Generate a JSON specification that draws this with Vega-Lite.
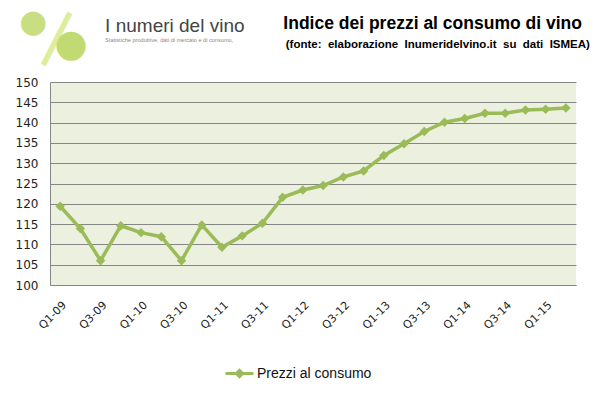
{
  "$schema": "https://vega.github.io/schema/vega-lite/v6.json",
  "width": 526,
  "height": 203,
  "autosize": {"type": "none"},
  "padding": {"left": 50, "top": 82, "right": 19, "bottom": 114},
  "background": "white",
  "config": {
    "view": {"fill": "#EBF1DE", "stroke": null},
    "font": "DejaVu Sans"
  },
  "data": {
    "values": [
      {"q": "Q1-09", "v": 119.4},
      {"q": "Q2-09", "v": 113.9},
      {"q": "Q3-09", "v": 106.0},
      {"q": "Q4-09", "v": 114.6},
      {"q": "Q1-10", "v": 112.9},
      {"q": "Q2-10", "v": 111.9},
      {"q": "Q3-10", "v": 106.0},
      {"q": "Q4-10", "v": 114.8},
      {"q": "Q1-11", "v": 109.3},
      {"q": "Q2-11", "v": 112.1},
      {"q": "Q3-11", "v": 115.2},
      {"q": "Q4-11", "v": 121.6},
      {"q": "Q1-12", "v": 123.4},
      {"q": "Q2-12", "v": 124.5},
      {"q": "Q3-12", "v": 126.6},
      {"q": "Q4-12", "v": 128.1},
      {"q": "Q1-13", "v": 131.9},
      {"q": "Q2-13", "v": 134.8},
      {"q": "Q3-13", "v": 137.8},
      {"q": "Q4-13", "v": 140.1},
      {"q": "Q1-14", "v": 141.0},
      {"q": "Q2-14", "v": 142.3},
      {"q": "Q3-14", "v": 142.3},
      {"q": "Q4-14", "v": 143.1},
      {"q": "Q1-15", "v": 143.3},
      {"q": "Q2-15", "v": 143.6}
    ]
  },
  "layer": [
    {
      "mark": {"type": "line", "strokeWidth": 3.5, "point": {"shape": "diamond", "size": 90, "filled": true}},
      "encoding": {
        "x": {
          "field": "q", "type": "ordinal", "sort": null,
          "axis": {
            "title": null,
            "values": ["Q1-09","Q3-09","Q1-10","Q3-10","Q1-11","Q3-11","Q1-12","Q3-12","Q1-13","Q3-13","Q1-14","Q3-14","Q1-15"],
            "labelAngle": -45,
            "labelFont": "DejaVu Sans",
            "labelFontSize": 11,
            "labelColor": "#222",
            "labelPadding": 14,
            "ticks": false,
            "domainColor": "#868686",
            "grid": false
          }
        },
        "y": {
          "field": "v", "type": "quantitative",
          "scale": {"domain": [100, 150], "nice": false, "zero": false},
          "axis": {
            "title": null,
            "values": [100,105,110,115,120,125,130,135,140,145,150],
            "tickCount": 11,
            "labelOverlap": false,
            "labelFont": "DejaVu Sans",
            "labelFontSize": 12,
            "labelColor": "#222",
            "labelPadding": 12,
            "ticks": false,
            "domainColor": "#868686",
            "gridColor": "#868686",
            "gridOpacity": 1
          }
        },
        "color": {
          "datum": "Prezzi al consumo",
          "scale": {"range": ["#9BBB59"]},
          "legend": {
            "title": null,
            "orient": "none",
            "legendX": 174,
            "legendY": 276,
            "symbolType": "M-1,0H1M0,-0.22L0.22,0L0,0.22L-0.22,0Z",
            "symbolSize": 784,
            "symbolStrokeWidth": 3,
            "symbolFillColor": "#9BBB59",
            "symbolStrokeColor": "#9BBB59",
            "labelFont": "Liberation Sans",
            "labelFontSize": 14,
            "labelColor": "#111",
            "labelOffset": 2
          }
        }
      }
    },
    {
      "data": {"values": [{"t": "●"}]},
      "mark": {"type": "text", "fontSize": 32, "color": "#C9DE80", "dx": -27, "align": "center", "baseline": "middle"},
      "encoding": {"text": {"field": "t"}, "x": {"datum": "Q1-09"}, "y": {"datum": 164.7}}
    },
    {
      "data": {"values": [{"t": "━━━"}]},
      "mark": {"type": "text", "fontSize": 32, "color": "#DCEE9E", "dx": -6, "align": "center", "baseline": "middle", "angle": -63},
      "encoding": {"text": {"field": "t"}, "x": {"datum": "Q1-09"}, "y": {"datum": 161.8}}
    },
    {
      "data": {"values": [{"t": "●"}]},
      "mark": {"type": "text", "fontSize": 38, "color": "#C2DA72", "dx": 11, "align": "center", "baseline": "middle"},
      "encoding": {"text": {"field": "t"}, "x": {"datum": "Q1-09"}, "y": {"datum": 159}}
    },
    {
      "data": {"values": [{"t": "I numeri del vino"}]},
      "mark": {"type": "text", "fontSize": 19, "font": "Liberation Sans", "color": "#444444", "dx": 45, "align": "left", "baseline": "alphabetic"},
      "encoding": {"text": {"field": "t"}, "x": {"datum": "Q1-09"}, "y": {"datum": 162.3}}
    },
    {
      "data": {"values": [{"t": "Statistiche produttive, dati di mercato e di consumo,"}]},
      "mark": {"type": "text", "fontSize": 5.6, "font": "Liberation Sans", "color": "#888888", "dx": 45, "align": "left", "baseline": "alphabetic"},
      "encoding": {"text": {"field": "t"}, "x": {"datum": "Q1-09"}, "y": {"datum": 159.8}}
    },
    {
      "data": {"values": [{"t": "Indice dei prezzi al consumo di vino"}]},
      "mark": {"type": "text", "fontSize": 17.5, "font": "Liberation Sans", "fontWeight": "bold", "color": "black", "dx": 16, "align": "right", "baseline": "alphabetic"},
      "encoding": {"text": {"field": "t"}, "x": {"datum": "Q2-15"}, "y": {"datum": 163.05}}
    },
    {
      "data": {"values": [{"t": "(fonte:\u00a0 elaborazione\u00a0 Inumeridelvino.it\u00a0 su\u00a0 dati\u00a0 ISMEA)"}]},
      "mark": {"type": "text", "fontSize": 11.5, "font": "Liberation Sans", "fontWeight": "bold", "color": "black", "dx": 24, "align": "right", "baseline": "alphabetic"},
      "encoding": {"text": {"field": "t"}, "x": {"datum": "Q2-15"}, "y": {"datum": 158.4}}
    }
  ]
}
